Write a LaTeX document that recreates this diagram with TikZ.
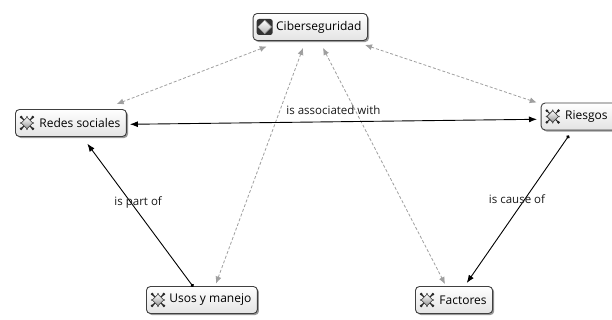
\documentclass[tikz,border=0pt]{standalone}
\usepackage{fontspec}
\setmainfont{Open Sans}
\usetikzlibrary{shadows,arrows.meta,calc}
\begin{document}
\begin{tikzpicture}[x=1pt,y=1pt,
  concept/.style={draw=black!75, line width=0.9pt, rounded corners=4pt,
    top color=white, bottom color=gray!22, minimum height=27pt,
    inner xsep=6pt, inner ysep=0pt, anchor=west,
    font=\fontsize{12}{14}\selectfont, text=black,
    drop shadow={shadow xshift=1.6pt, shadow yshift=-1.6pt, fill=black!50, opacity=0.8}},
  link/.style={draw=black, line width=0.9pt},
  dotstart/.style={{Circle[length=3.5pt]}-{Latex[length=8pt,width=6pt]}},
  grayline/.style={draw=gray!75, line width=0.8pt, dash pattern=on 3pt off 2pt,
    {Latex[length=7pt,width=6pt,fill=gray!75]}-{Latex[length=7pt,width=6pt,fill=gray!75]}},
  linklabel/.style={font=\fontsize{11.5}{13}\selectfont, text=black!90, inner sep=0pt},
  conceptico/.pic={
    \draw[black!85, line width=1.1pt] (-6.3,-6.3) -- (6.3,6.3) (-6.3,6.3) -- (6.3,-6.3);
    \foreach \a in {45,135,225,315} \fill[black!85] (\a:8.2) circle (1.5);
    \foreach \a in {0,90,180,270} \fill[black!60] (\a:6.2) circle (0.9);
    \shade[top color=white, bottom color=gray!85, draw=black!80, line width=0.6pt]
      (0,5.8) -- (5.8,0) -- (0,-5.8) -- (-5.8,0) -- cycle;
  },
  ciberico/.pic={
    \fill[black!80, rounded corners=2.5pt] (-8,-8) rectangle (8,8);
    \shade[top color=white, bottom color=gray!60, draw=black!40, line width=0.4pt]
      (0,6.8) -- (6.8,0) -- (0,-6.8) -- (-6.8,0) -- cycle;
  }
]
\clip (0,0) rectangle (612,320);
\fill[white] (0,0) rectangle (612,320);

% concepts
\node[concept] (cib)   at (252.7,293)   {\hspace*{17pt}Ciberseguridad};
\node[concept] (redes) at (15,197)      {\hspace*{18pt}Redes sociales};
\node[concept] (rie)   at (540.7,203.5) {\hspace*{18pt}Riesgos\hspace*{16pt}};
\node[concept] (usos)  at (146,20)      {\hspace*{17pt}Usos y manejo};
\node[concept] (fac)   at (415,20)      {\hspace*{18pt}Factores};

% icons
\pic at ([xshift=12pt]cib.west)   {ciberico};
\pic at ([xshift=12pt]redes.west) {conceptico};
\pic at ([xshift=12pt]rie.west)   {conceptico};
\pic at ([xshift=12pt]usos.west)  {conceptico};
\pic at ([xshift=12pt]fac.west)   {conceptico};

% gray dashed associations
\draw[grayline] ([shift={(14,-5.5)}]cib.south west) -- ([shift={(101.7,5)}]redes.north west);
\draw[grayline] ([shift={(112.3,-4)}]cib.south west) -- ([shift={(-4,0)}]rie.north west);
\draw[grayline] ([shift={(50.3,-7)}]cib.south west) -- ([shift={(70,2.5)}]usos.north west);
\draw[grayline] ([shift={(70.3,-7)}]cib.south west) -- ([shift={(30,2)}]fac.north west);

% black links
\draw[link, {Latex[length=8pt,width=6pt]}-{Latex[length=8pt,width=6pt]}]
  ([shift={(3,-1.3)}]redes.east) -- ([shift={(-3.7,-2.8)}]rie.west)
  node[linklabel, midway, yshift=12pt] {is associated with};
\draw[link, dotstart] ([shift={(47.3,-0.8)}]usos.north west) -- ([shift={(72.3,-6.7)}]redes.south west)
  node[linklabel, pos=0.586, xshift=7pt] {is part of};
\draw[link, dotstart] ([shift={(28.3,-5)}]rie.south west) -- ([shift={(51.7,3)}]fac.north west)
  node[linklabel, pos=0.43, xshift=-8pt] {is cause of};
\end{tikzpicture}
\end{document}
